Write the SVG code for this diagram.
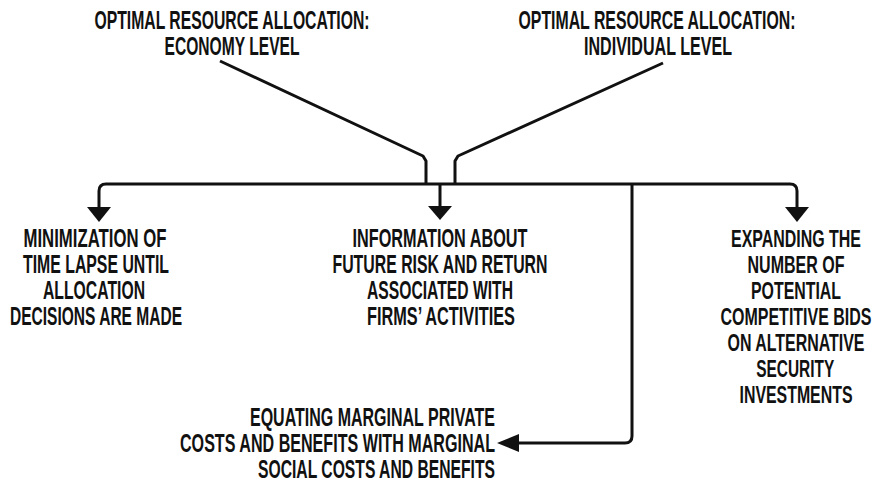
<svg xmlns="http://www.w3.org/2000/svg" width="879" height="486" viewBox="0 0 879 486">
  <style>
    .lbl { font-family: "Liberation Sans Narrow", "Liberation Sans", Arial, sans-serif; font-weight: bold; font-size: 25px; fill: #111; }
    .mid { text-anchor: middle; }
    .end { text-anchor: end; }
    .wire { fill: none; stroke: #111; stroke-width: 3; stroke-linejoin: round; stroke-linecap: butt; }
    .head { fill: #111; stroke: none; }
  </style>
  <rect width="879" height="486" fill="#fff"/>

  <g id="connectors">
    <!-- inputs feeding the distribution bus -->
    <path class="wire" d="M220,61 L423,156 L426,161 L426,184"/>
    <path class="wire" d="M663,63 L458,156 L455,161 L455,184"/>
    <!-- distribution bus with rounded drop-offs -->
    <path class="wire" d="M99,209 L99,191 Q99,184 106,184 L790,184 Q797,184 797,191 L797,209"/>
    <path class="wire" d="M440,184 L440,208"/>
    <path class="wire" d="M632,184 L632,436 Q632,443 625,443 L517,443"/>
    <!-- arrowheads -->
    <polygon class="head" points="87,207 111,207 99,222"/>
    <polygon class="head" points="428,206 452,206 440,220"/>
    <polygon class="head" points="785,207 809,207 797,222"/>
    <polygon class="head" points="497,443 519,434 519,452"/>
  </g>

  <!-- labels are set in a condensed face: each group is squeezed horizontally by 0.8,
       so x positions and lengths below are in the squeezed coordinate space -->
  <g id="economy-level" transform="scale(0.8,1)">
    <text class="lbl mid" x="290" y="29" textLength="343.75" lengthAdjust="spacingAndGlyphs">OPTIMAL RESOURCE ALLOCATION:</text>
    <text class="lbl mid" x="290" y="55" textLength="168.75" lengthAdjust="spacingAndGlyphs">ECONOMY LEVEL</text>
  </g>

  <g id="individual-level" transform="scale(0.8,1)">
    <text class="lbl mid" x="821.25" y="29" textLength="346.25" lengthAdjust="spacingAndGlyphs">OPTIMAL RESOURCE ALLOCATION:</text>
    <text class="lbl mid" x="822.5" y="55" textLength="185" lengthAdjust="spacingAndGlyphs">INDIVIDUAL LEVEL</text>
  </g>

  <g id="time-lapse" transform="scale(0.8,1)">
    <text class="lbl mid" x="118.75" y="247" textLength="178.75" lengthAdjust="spacingAndGlyphs">MINIMIZATION OF</text>
    <text class="lbl mid" x="120" y="273" textLength="182.5" lengthAdjust="spacingAndGlyphs">TIME LAPSE UNTIL</text>
    <text class="lbl mid" x="117.5" y="299" textLength="127.5" lengthAdjust="spacingAndGlyphs">ALLOCATION</text>
    <text class="lbl mid" x="120" y="325" textLength="215" lengthAdjust="spacingAndGlyphs">DECISIONS ARE MADE</text>
  </g>

  <g id="risk-return" transform="scale(0.8,1)">
    <text class="lbl mid" x="550" y="247" textLength="218.75" lengthAdjust="spacingAndGlyphs">INFORMATION ABOUT</text>
    <text class="lbl mid" x="550" y="273" textLength="268.75" lengthAdjust="spacingAndGlyphs">FUTURE RISK AND RETURN</text>
    <text class="lbl mid" x="550" y="299" textLength="182.5" lengthAdjust="spacingAndGlyphs">ASSOCIATED WITH</text>
    <text class="lbl mid" x="551.25" y="325" textLength="185" lengthAdjust="spacingAndGlyphs">FIRMS’ ACTIVITIES</text>
  </g>

  <g id="competitive-bids" transform="scale(0.8,1)" style="font-size:24px">
    <text class="lbl mid" x="995" y="247" textLength="162.5" lengthAdjust="spacingAndGlyphs" style="font-size:24px">EXPANDING THE</text>
    <text class="lbl mid" x="995" y="273" textLength="121.25" lengthAdjust="spacingAndGlyphs" style="font-size:24px">NUMBER OF</text>
    <text class="lbl mid" x="995" y="299" textLength="112.5" lengthAdjust="spacingAndGlyphs" style="font-size:24px">POTENTIAL</text>
    <text class="lbl mid" x="995" y="325" textLength="188.75" lengthAdjust="spacingAndGlyphs" style="font-size:24px">COMPETITIVE BIDS</text>
    <text class="lbl mid" x="995" y="351" textLength="171.25" lengthAdjust="spacingAndGlyphs" style="font-size:24px">ON ALTERNATIVE</text>
    <text class="lbl mid" x="994" y="377" textLength="97.5" lengthAdjust="spacingAndGlyphs" style="font-size:24px">SECURITY</text>
    <text class="lbl mid" x="995" y="403" textLength="141.25" lengthAdjust="spacingAndGlyphs" style="font-size:24px">INVESTMENTS</text>
  </g>

  <g id="marginal-costs" transform="scale(0.8,1)">
    <text class="lbl end" x="618.75" y="426" textLength="306.25" lengthAdjust="spacingAndGlyphs">EQUATING MARGINAL PRIVATE</text>
    <text class="lbl end" x="618.75" y="452" textLength="393.75" lengthAdjust="spacingAndGlyphs">COSTS AND BENEFITS WITH MARGINAL</text>
    <text class="lbl end" x="618.75" y="478" textLength="296.25" lengthAdjust="spacingAndGlyphs">SOCIAL COSTS AND BENEFITS</text>
  </g>
</svg>
